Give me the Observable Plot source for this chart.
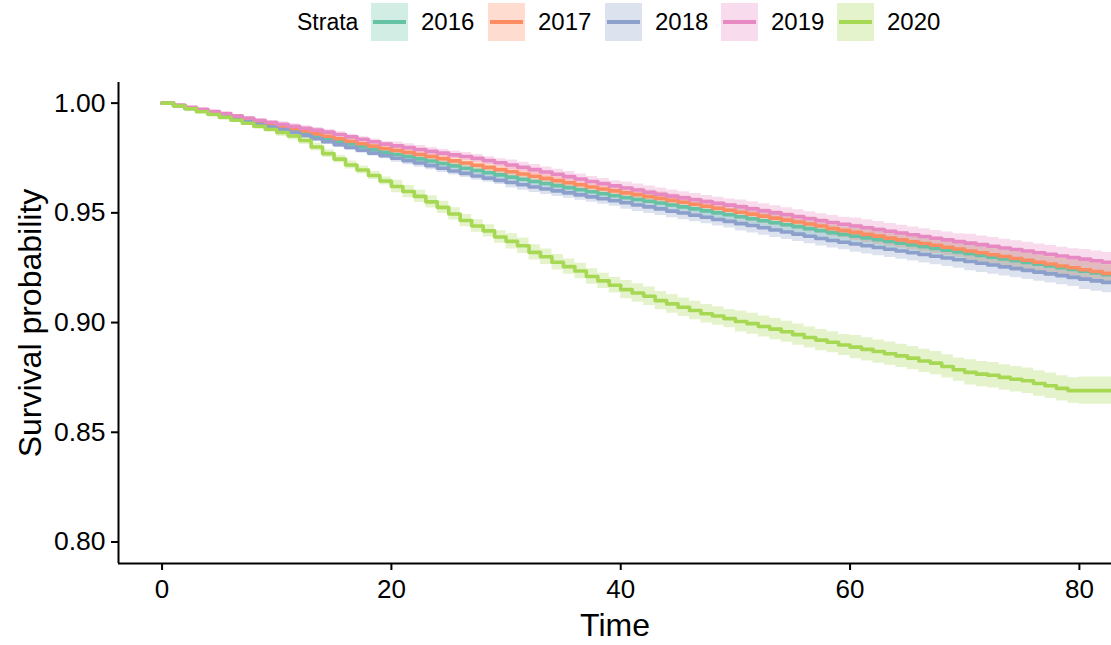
<!DOCTYPE html>
<html>
<head>
<meta charset="utf-8">
<script src="https://cdn.jsdelivr.net/npm/d3@7"></script>
<script src="https://cdn.jsdelivr.net/npm/@observablehq/plot@0.6"></script>
<style>
  html, body { margin: 0; padding: 0; background: #fff; }
  body { width: 1111px; height: 645px; overflow: hidden; font-family: "Liberation Sans", Arial, sans-serif; }
  #legend { position: relative; height: 50px; }
  #legend .title { position: absolute; left: 297px; top: 8px; font-size: 23px; color: #000; line-height: 28px; }
  #legend .item { position: absolute; top: 3px; display: flex; align-items: center; }
  #legend .key { width: 37px; height: 38px; position: relative; }
  #legend .key .ln { position: absolute; left: 2px; right: 2px; top: 17px; height: 4px; }
  #legend .lab { margin-left: 13px; font-size: 24px; color: #000; }
</style>
</head>
<body>
<div id="legend"></div>
<div id="chart"></div>
<script>
// ---- data ----
const strata = ["2016", "2017", "2018", "2019", "2020"];
const colors = ["#66C2A5", "#FC8D62", "#8DA0CB", "#E78AC3", "#A6D854"];
const times = d3.range(0, 84);
const xTicks = [0, 20, 40, 60, 80];
const yTicks = [0.80, 0.85, 0.90, 0.95, 1.00];
const xDomain = [-3.8, 82.8];
const yDomain = [0.7902, 1.0094];

const surv2016 = [1.0000,0.9989,0.9978,0.9967,0.9956,0.9945,0.9934,0.9923,0.9912,0.9901,
  0.9890,0.9879,0.9866,0.9852,0.9838,0.9826,0.9814,0.9801,0.9788,0.9776,
  0.9766,0.9756,0.9746,0.9736,0.9725,0.9714,0.9703,0.9693,0.9683,0.9673,
  0.9663,0.9653,0.9643,0.9634,0.9624,0.9615,0.9605,0.9596,0.9587,0.9578,
  0.9569,0.9561,0.9553,0.9545,0.9536,0.9527,0.9518,0.9509,0.9500,0.9491,
  0.9482,0.9473,0.9464,0.9455,0.9446,0.9437,0.9428,0.9419,0.9410,0.9402,
  0.9394,0.9386,0.9378,0.9370,0.9362,0.9354,0.9346,0.9338,0.9330,0.9322,
  0.9314,0.9306,0.9298,0.9290,0.9282,0.9274,0.9266,0.9258,0.9250,0.9242,
  0.9234,0.9226,0.9218,0.9210];
const surv2017 = [1.0000,0.9989,0.9979,0.9969,0.9958,0.9948,0.9937,0.9926,0.9915,0.9905,
  0.9894,0.9884,0.9873,0.9860,0.9849,0.9838,0.9826,0.9815,0.9804,0.9793,
  0.9784,0.9775,0.9766,0.9757,0.9747,0.9737,0.9727,0.9717,0.9707,0.9697,
  0.9687,0.9677,0.9667,0.9657,0.9647,0.9637,0.9628,0.9618,0.9609,0.9600,
  0.9591,0.9583,0.9574,0.9566,0.9557,0.9548,0.9539,0.9530,0.9521,0.9512,
  0.9503,0.9494,0.9485,0.9476,0.9467,0.9458,0.9449,0.9440,0.9428,0.9419,
  0.9411,0.9402,0.9394,0.9385,0.9377,0.9368,0.9360,0.9352,0.9343,0.9335,
  0.9326,0.9318,0.9309,0.9301,0.9292,0.9284,0.9275,0.9267,0.9258,0.9250,
  0.9241,0.9233,0.9224,0.9216];
const surv2018 = [1.0000,0.9988,0.9976,0.9964,0.9952,0.9940,0.9928,0.9916,0.9904,0.9892,
  0.9880,0.9867,0.9853,0.9838,0.9824,0.9811,0.9798,0.9785,0.9772,0.9760,
  0.9749,0.9738,0.9727,0.9715,0.9703,0.9691,0.9680,0.9668,0.9658,0.9648,
  0.9638,0.9628,0.9618,0.9609,0.9600,0.9591,0.9582,0.9573,0.9564,0.9555,
  0.9546,0.9536,0.9527,0.9518,0.9508,0.9499,0.9489,0.9480,0.9470,0.9461,
  0.9451,0.9442,0.9432,0.9422,0.9413,0.9403,0.9393,0.9383,0.9374,0.9366,
  0.9358,0.9350,0.9342,0.9334,0.9326,0.9318,0.9310,0.9302,0.9294,0.9286,
  0.9278,0.9270,0.9262,0.9254,0.9246,0.9238,0.9230,0.9222,0.9214,0.9206,
  0.9198,0.9190,0.9183,0.9176];
const surv2019 = [1.0000,0.9990,0.9981,0.9972,0.9962,0.9953,0.9942,0.9932,0.9922,0.9913,
  0.9903,0.9894,0.9885,0.9877,0.9868,0.9857,0.9846,0.9835,0.9824,0.9813,
  0.9805,0.9797,0.9789,0.9780,0.9772,0.9764,0.9757,0.9748,0.9738,0.9728,
  0.9718,0.9708,0.9697,0.9686,0.9676,0.9665,0.9654,0.9643,0.9633,0.9623,
  0.9613,0.9604,0.9594,0.9585,0.9576,0.9568,0.9560,0.9551,0.9543,0.9535,
  0.9527,0.9518,0.9509,0.9500,0.9491,0.9482,0.9473,0.9464,0.9456,0.9448,
  0.9440,0.9432,0.9424,0.9416,0.9408,0.9400,0.9392,0.9384,0.9377,0.9369,
  0.9362,0.9355,0.9348,0.9340,0.9333,0.9326,0.9318,0.9311,0.9303,0.9296,
  0.9289,0.9282,0.9275,0.9268];
const surv2020 = [1.0000,0.9987,0.9974,0.9961,0.9948,0.9935,0.9922,0.9908,0.9894,0.9880,
  0.9866,0.9850,0.9830,0.9800,0.9770,0.9745,0.9718,0.9695,0.9670,0.9645,
  0.9620,0.9597,0.9575,0.9550,0.9525,0.9495,0.9465,0.9440,0.9418,0.9390,
  0.9370,0.9350,0.9320,0.9300,0.9275,0.9255,0.9235,0.9210,0.9190,0.9170,
  0.9150,0.9135,0.9120,0.9100,0.9085,0.9070,0.9055,0.9040,0.9030,0.9018,
  0.9005,0.8995,0.8982,0.8970,0.8958,0.8945,0.8932,0.8920,0.8910,0.8898,
  0.8888,0.8878,0.8868,0.8858,0.8848,0.8838,0.8825,0.8815,0.8800,0.8785,
  0.8773,0.8765,0.8760,0.8750,0.8742,0.8735,0.8722,0.8712,0.8700,0.8690,
  0.8690,0.8690,0.8690,0.8690];

// confidence half-widths, one per 10-unit block of time (0-9, 10-19, ... 80+)
const ci2016 = [0.0005,0.0013,0.0019,0.0024,0.0029,0.0033,0.0037,0.0041,0.0045];
const ci2017 = [0.0005,0.0013,0.0019,0.0024,0.0029,0.0033,0.0037,0.0041,0.0045];
const ci2018 = [0.0005,0.0013,0.0019,0.0025,0.0030,0.0034,0.0038,0.0042,0.0047];
const ci2019 = [0.0005,0.0012,0.0018,0.0023,0.0028,0.0032,0.0036,0.0040,0.0044];
const ci2020 = [0.0006,0.0018,0.0028,0.0035,0.0042,0.0048,0.0053,0.0058,0.0062];

const survs = [surv2016, surv2017, surv2018, surv2019, surv2020];
const cis = [ci2016, ci2017, ci2018, ci2019, ci2020];

const rows = [];
strata.forEach((s, i) => {
  times.forEach((t, j) => {
    const v = survs[i][j];
    const h = cis[i][Math.min(Math.floor(t / 10), cis[i].length - 1)];
    rows.push({time: t, strata: s, surv: v, lo: v - h, hi: v + h});
  });
});

// ---- legend ----
const legend = document.getElementById("legend");
const title = document.createElement("div");
title.className = "title";
title.textContent = "Strata";
legend.appendChild(title);
const keyLefts = [371, 488, 605, 721, 837];
strata.forEach((s, i) => {
  const item = document.createElement("div");
  item.className = "item";
  item.style.left = keyLefts[i] + "px";
  const key = document.createElement("div");
  key.className = "key";
  const c = d3.color(colors[i]); c.opacity = 0.3;
  key.style.background = c.formatRgb();
  const ln = document.createElement("div");
  ln.className = "ln";
  ln.style.background = colors[i];
  key.appendChild(ln);
  const lab = document.createElement("span");
  lab.className = "lab";
  lab.textContent = s;
  item.appendChild(key);
  item.appendChild(lab);
  legend.appendChild(item);
});

// ---- chart ----
const chart = Plot.plot({
  width: 1111,
  height: 595,
  marginTop: 32,
  marginBottom: 82,
  marginLeft: 118,
  marginRight: 0,
  style: {fontFamily: "Liberation Sans, Arial, sans-serif", color: "#000", background: "#fff", overflow: "visible"},
  x: {domain: xDomain},
  y: {domain: yDomain},
  color: {domain: strata, range: colors},
  marks: [
    Plot.areaY(rows, {x: "time", y1: "lo", y2: "hi", z: "strata", fill: "strata", fillOpacity: 0.3, curve: "step-after", clip: true}),
    Plot.line(rows, {x: "time", y: "surv", z: "strata", stroke: "strata", strokeWidth: 3.6, curve: "step-after", clip: true}),
    Plot.ruleX([xDomain[0]], {stroke: "#000", strokeWidth: 2}),
    Plot.ruleY([yDomain[0]], {stroke: "#000", strokeWidth: 2}),
    Plot.axisY(yTicks, {tickSize: 7, tickPadding: 6, tickFormat: d3.format(".2f"), fontSize: 26.5, label: null, strokeWidth: 2, color: "#000"}),
    Plot.axisX(xTicks, {tickSize: 7, tickPadding: 9, tickFormat: d3.format("d"), fontSize: 26, label: null, strokeWidth: 2, color: "#000"}),
    Plot.text(["Survival probability"], {frameAnchor: "left", textAnchor: "middle", rotate: -90, dx: -88, fontSize: 32, fill: "#000"}),
    Plot.text(["Time"], {frameAnchor: "bottom", textAnchor: "middle", dy: 72, fontSize: 32, fill: "#000"})
  ]
});
document.getElementById("chart").appendChild(chart);
</script>
</body>
</html>
